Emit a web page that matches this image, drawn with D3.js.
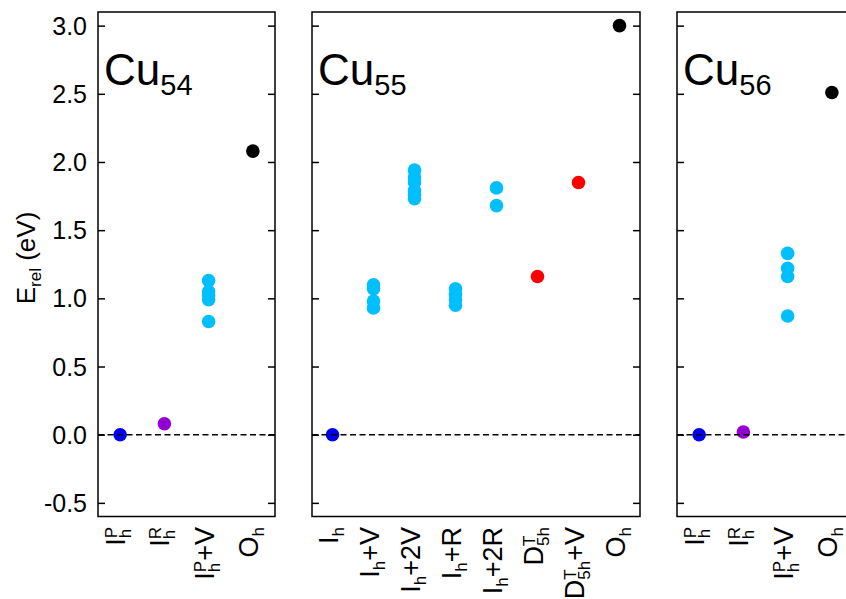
<!DOCTYPE html>
<html>
<head>
<meta charset="utf-8">
<script src="https://cdn.jsdelivr.net/npm/d3@7/dist/d3.min.js"></script>
<style>
  html, body { margin: 0; padding: 0; background: #fff; }
  svg { display: block; font-family: "Liberation Sans", Arial, sans-serif; }
</style>
</head>
<body>
<svg id="chart" width="846" height="599"></svg>
<script>
// ---------------- data ----------------
const yTickValues = [-0.5, 0.0, 0.5, 1.0, 1.5, 2.0, 2.5, 3.0];
const yDomain = [-0.6, 3.1];

const cu54Title = ["Cu", "54"];
const cu54Categories = ["I_h^P", "I_h^R", "I_h^P+V", "O_h"];
const cu54Types = ["ground", "rot", "vac", "oh"];
const cu54Values = [[0.0], [0.08], [1.13, 1.05, 1.02, 0.99, 0.83], [2.08]];

const cu55Title = ["Cu", "55"];
const cu55Categories = ["I_h", "I_h+V", "I_h+2V", "I_h+R", "I_h+2R", "D_5h^T", "D_5h^T+V", "O_h"];
const cu55Types = ["ground", "vac", "vac", "vac", "vac", "dec", "dec", "oh"];
const cu55Values = [[0.0], [1.10, 1.07, 0.98, 0.93], [1.94, 1.89, 1.85, 1.79, 1.76, 1.73],
                    [1.07, 1.03, 0.99, 0.95], [1.81, 1.68], [1.16], [1.85], [3.0]];

const cu56Title = ["Cu", "56"];
const cu56Categories = ["I_h^P", "I_h^R", "I_h^P+V", "O_h"];
const cu56Types = ["ground", "rot", "vac", "oh"];
const cu56Values = [[0.0], [0.02], [1.33, 1.22, 1.16, 0.87], [2.51]];

// ---------------- style ----------------
const typeColor = { ground: "#0000f0", rot: "#9400d3", vac: "#00bfff", dec: "#ff0000", oh: "#000000" };
const panelsLayout = [
  { x0: 98, x1: 275, showY: true },
  { x0: 312, x1: 640, showY: false },
  { x0: 677, x1: 854, showY: false }
];
const panelsData = [
  { title: cu54Title, cats: cu54Categories, types: cu54Types, vals: cu54Values },
  { title: cu55Title, cats: cu55Categories, types: cu55Types, vals: cu55Values },
  { title: cu56Title, cats: cu56Categories, types: cu56Types, vals: cu56Values }
];
const plotTop = 12, plotBottom = 516.5;
const tickLen = 7;
const R = 6.8;

const svg = d3.select("#chart");
const y = d3.scaleLinear().domain(yDomain).range([plotBottom, plotTop]);

function parseLabel(s) {
  const m = s.match(/^([A-Z])(?:_([0-9a-z]+))?(?:\^([A-Z]))?(.*)$/);
  return { base: m[1], sub: m[2] || "", sup: m[3] || "", rest: m[4] || "" };
}

panelsData.forEach((pd, pi) => {
  const L = panelsLayout[pi];
  const g = svg.append("g");
  const x = d3.scalePoint().domain(d3.range(pd.cats.length)).range([L.x0, L.x1]).padding(0.5);

  // axes (inward ticks both sides)
  const leftAxis = d3.axisRight(y).tickValues(yTickValues).tickSize(tickLen).tickFormat("");
  const rightAxis = d3.axisLeft(y).tickValues(yTickValues).tickSize(tickLen).tickFormat("");
  const la = g.append("g").attr("transform", `translate(${L.x0},0)`).call(leftAxis);
  const ra = g.append("g").attr("transform", `translate(${L.x1},0)`).call(rightAxis);
  [la, ra].forEach(a => {
    a.select(".domain").remove();
    a.selectAll("line").attr("stroke", "#000").attr("stroke-width", 1.5);
  });

  if (L.showY) {
    g.append("g").selectAll("text").data(yTickValues).join("text")
      .attr("x", L.x0 - 11).attr("y", d => y(d)).attr("dy", "0.36em")
      .attr("text-anchor", "end").attr("font-size", 25).attr("fill", "#000")
      .text(d => d.toFixed(1));
  }

  // points
  const pts = [];
  pd.vals.forEach((arr, ci) => arr.forEach(v => pts.push({ ci, v, t: pd.types[ci] })));
  g.append("g").selectAll("circle").data(pts).join("circle")
    .attr("cx", d => x(d.ci)).attr("cy", d => y(d.v)).attr("r", R)
    .attr("fill", d => typeColor[d.t]);

  // zero dashed line
  g.append("line").attr("x1", L.x0).attr("x2", L.x1).attr("y1", y(0)).attr("y2", y(0))
    .attr("stroke", "#000").attr("stroke-width", 1.5).attr("stroke-dasharray", "6,3.5");

  // frame
  g.append("rect").attr("x", L.x0).attr("y", plotTop).attr("width", L.x1 - L.x0).attr("height", plotBottom - plotTop)
    .attr("fill", "none").attr("stroke", "#000").attr("stroke-width", 1.5);

  // title
  const tt = g.append("text").attr("x", L.x0 + 6).attr("y", 85).attr("fill", "#000");
  tt.append("tspan").attr("font-size", 44).text(pd.title[0]);
  tt.append("tspan").attr("font-size", 29).attr("dy", 10).text(pd.title[1]);

  // x labels (rotated)
  pd.cats.forEach((c, ci) => {
    const p = parseLabel(c);
    const lg = g.append("g").attr("transform", `translate(${x(ci) + 5},527) rotate(-90)`);
    const t = lg.append("text").attr("text-anchor", "end").attr("font-size", 27).attr("fill", "#000");
    t.append("tspan").text(p.base);
    let wSup = 0, wSub = 0;
    if (p.sup) {
      const supEl = t.append("tspan").attr("font-size", 17).attr("dy", -8).text(p.sup);
      wSup = supEl.node().getComputedTextLength();
    }
    let curDy = p.sup ? -8 : 0;
    if (p.sub) {
      const subEl = t.append("tspan").attr("font-size", 17)
        .attr("dx", p.sup ? -wSup : 0).attr("dy", 6 - curDy).text(p.sub);
      wSub = subEl.node().getComputedTextLength();
      curDy = 6;
    }
    if (p.rest) {
      t.append("tspan").attr("dx", Math.max(0, wSup - wSub)).attr("dy", -curDy).text(p.rest);
    }
  });
});

// y axis label
const yl = svg.append("text").attr("transform", "translate(35,258) rotate(-90)")
  .attr("text-anchor", "middle").attr("font-size", 26).attr("fill", "#000");
yl.append("tspan").text("E");
yl.append("tspan").attr("font-size", 17).attr("dy", 6).text("rel");
yl.append("tspan").attr("dy", -6).text(" (eV)");
</script>
</body>
</html>
